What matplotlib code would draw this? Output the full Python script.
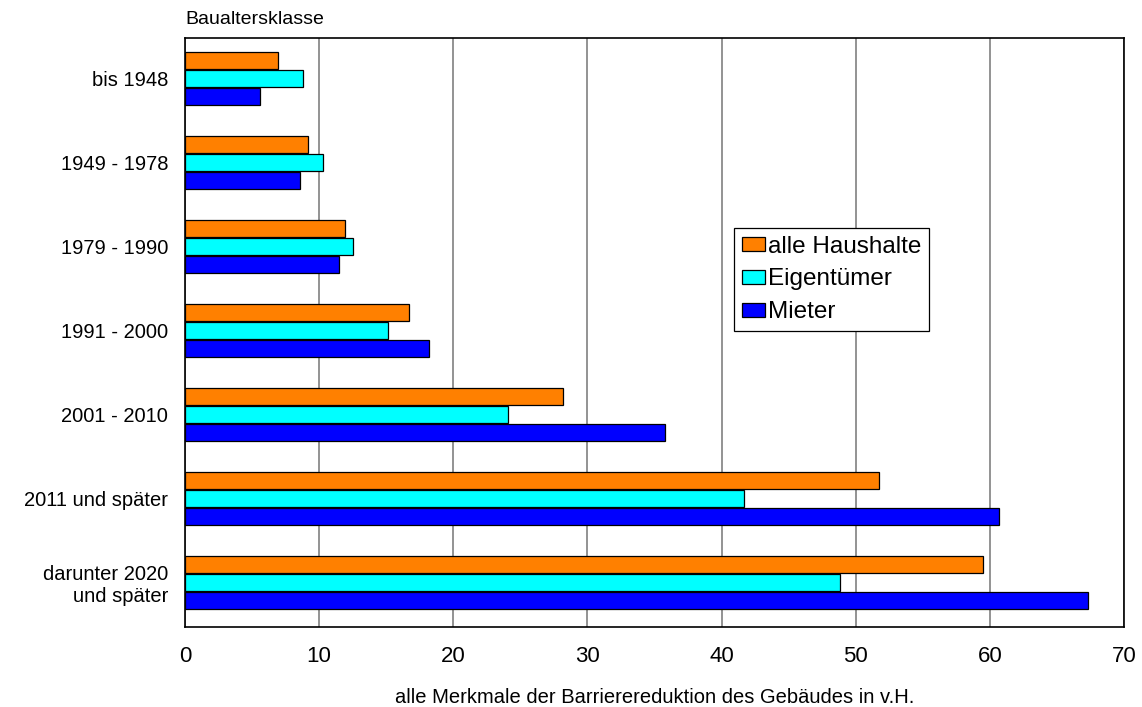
import numpy as np
import matplotlib
matplotlib.use("Agg")
import matplotlib.pyplot as plt

plt.rcParams['font.family'] = ['Liberation Sans', 'DejaVu Sans']

categories = ["bis 1948", "1949 - 1978", "1979 - 1990", "1991 - 2000",
              "2001 - 2010", "2011 und später", "darunter 2020\nund später"]
alle_haushalte = [6.9, 9.2, 11.9, 16.7, 28.2, 51.7, 59.5]
eigentuemer = [8.8, 10.3, 12.5, 15.1, 24.1, 41.7, 48.8]
mieter = [5.6, 8.6, 11.5, 18.2, 35.8, 60.7, 67.3]

series = [("alle Haushalte", alle_haushalte, "#FF8000"),
          ("Eigentümer", eigentuemer, "#00FFFF"),
          ("Mieter", mieter, "#0000FF")]


def main():
    fig = plt.figure(figsize=(11.42, 7.07), dpi=100)
    ax = fig.add_axes([185 / 1142, 1 - 627 / 707, 939 / 1142, 589 / 707])

    y = np.arange(len(categories))
    offsets = [-0.214, 0.0, 0.214]
    for (name, vals, col), off in zip(series, offsets):
        ax.barh(y + off, vals, height=0.2, color=col, edgecolor="black",
                linewidth=0.9, label=name, zorder=3)

    ax.set_xlim(0, 70)
    ax.set_ylim(6.53, -0.48)
    ax.set_xticks(range(0, 71, 10))
    ax.set_yticks(y)
    ax.set_yticklabels(categories, fontsize=14.5, ha="right",
                       multialignment="right", linespacing=1.15)
    ax.tick_params(axis="x", length=0, labelsize=16, pad=14)
    ax.tick_params(axis="y", length=0, pad=12)
    ax.grid(axis="x", color="#808080", linewidth=1.2, zorder=0)

    for sp in ax.spines.values():
        sp.set_color("black")
        sp.set_linewidth(1.2)

    ax.set_xlabel("alle Merkmale der Barrierereduktion des Gebäudes in v.H.",
                  fontsize=14.5, labelpad=15)
    fig.text(185 / 1142, 1 - 19 / 707, "Baualtersklasse", fontsize=14,
             ha="left", va="center")

    leg = ax.legend(loc="upper left", bbox_to_anchor=(0.585, 0.677),
                    fontsize=17.5, frameon=True, fancybox=False,
                    edgecolor="black", framealpha=1, borderaxespad=0,
                    handlelength=0.95, handleheight=0.5, handletextpad=0.15,
                    labelspacing=0.45, borderpad=0.3)
    leg.get_frame().set_linewidth(0.9)

    fig.savefig("out.png", dpi=100)


main()
